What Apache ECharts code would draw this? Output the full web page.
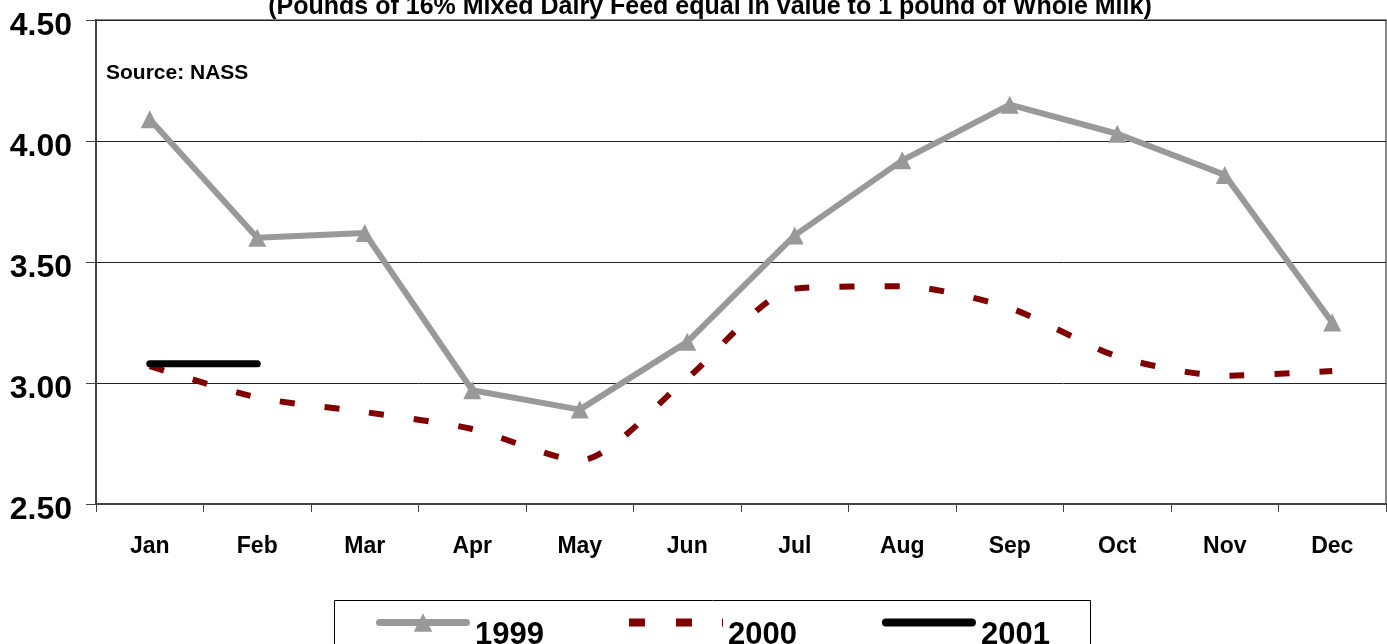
<!DOCTYPE html>
<html>
<head>
<meta charset="utf-8">
<script src="https://cdn.jsdelivr.net/npm/echarts@6/dist/echarts.min.js"></script>
<style>
  html, body { margin: 0; padding: 0; background: #fff; }
  #chart { width: 1387px; height: 644px; }
</style>
</head>
<body>
<div id="chart"></div>
<script>
// months on the x axis
const months = ['Jan', 'Feb', 'Mar', 'Apr', 'May', 'Jun', 'Jul', 'Aug', 'Sep', 'Oct', 'Nov', 'Dec'];

// milk-feed price ratio per year
const ratio1999 = [4.09, 3.60, 3.62, 2.97, 2.89, 3.17, 3.61, 3.92, 4.15, 4.03, 3.86, 3.25];
const ratio2000 = [3.07, 2.94, 2.88, 2.81, 2.68, 3.02, 3.39, 3.40, 3.31, 3.11, 3.03, 3.05];
const ratio2001 = [3.08, 3.08];

const titleText = '(Pounds of 16% Mixed Dairy Feed equal in value to 1 pound of Whole Milk)';
const sourceText = 'Source: NASS';

const chart = echarts.init(document.getElementById('chart'));
const font = 'Liberation Sans';

// legend icons drawn like the line samples of the original
const icon1999 = 'path://M5.5,6.5 L90.5,6.5 A3.5,3.5 0 0 1 90.5,13.5 L5.5,13.5 A3.5,3.5 0 0 1 5.5,6.5 Z M48,1 L57,19 L39,19 Z';
const icon2000 = 'path://M0,0 L16,0 L16,8 L0,8 Z M47,0 L63,0 L63,8 L47,8 Z M93,0 L94,0 L94,8 L93,8 Z';
const icon2001 = 'path://M4,0 L88,0 A4,4 0 0 1 88,8 L4,8 A4,4 0 0 1 4,0 Z';

const option = {
    backgroundColor: '#fff',
    animation: false,
    textStyle: { fontFamily: font },
    title: {
        text: titleText,
        left: 705,
        textAlign: 'center',
        top: -10,
        textStyle: { fontSize: 25, fontWeight: 'bold', color: '#000', fontFamily: font }
    },
    graphic: [
        {
            type: 'text',
            left: 106,
            top: 63,
            style: { text: sourceText, font: 'bold 21px "Liberation Sans"', fill: '#000' }
        },
        {
            // legend frame, runs off the bottom edge like the original
            type: 'rect',
            z: 1,
            shape: { x: 334.5, y: 600.5, width: 756, height: 60 },
            style: { fill: 'none', stroke: '#000', lineWidth: 1 }
        }
    ],
    legend: {
        left: 376,
        top: 594,
        padding: 0,
        itemWidth: 94,
        itemHeight: 20,
        itemGap: 85,
        symbolKeepAspect: true,
        // blank first line pushes the name a little below the icon, as in the original
        formatter: name => '\n' + name,
        textStyle: { fontSize: 31, fontWeight: 'bold', color: '#000', fontFamily: font, lineHeight: 26 },
        data: [
            { name: '1999', icon: icon1999 },
            { name: '2000', icon: icon2000 },
            { name: '2001', icon: icon2001 }
        ]
    },
    grid: {
        left: 96,
        right: 1,
        top: 20,
        bottom: 140,
        show: true,
        borderColor: '#888',
        borderWidth: 2,
        containLabel: false
    },
    xAxis: {
        type: 'category',
        data: months,
        boundaryGap: true,
        axisLine: { lineStyle: { color: '#444', width: 2 } },
        axisTick: { show: true, interval: 0, length: 8, lineStyle: { color: '#444', width: 1 } },
        axisLabel: { fontSize: 23, fontWeight: 'bold', color: '#000', margin: 31, interval: 0, fontFamily: font }
    },
    yAxis: {
        type: 'value',
        min: 2.5,
        max: 4.5,
        interval: 0.5,
        axisLine: { show: true, lineStyle: { color: '#444', width: 2 } },
        axisTick: { show: true, length: 10, lineStyle: { color: '#444' } },
        axisLabel: {
            fontSize: 32, fontWeight: 'bold', color: '#000', margin: 24, fontFamily: font,
            verticalAlign: 'top',
            lineHeight: 12,
            formatter: v => v.toFixed(2)
        },
        splitLine: { lineStyle: { color: '#222', width: 1 } }
    },
    series: [
        {
            name: '1999',
            type: 'line',
            data: ratio1999,
            symbol: 'triangle',
            symbolSize: 18,
            itemStyle: { color: '#999999' },
            lineStyle: { color: '#999999', width: 6 },
            z: 3
        },
        {
            name: '2000',
            type: 'line',
            data: ratio2000,
            symbol: 'none',
            smooth: 0.25,
            itemStyle: { color: '#800000' },
            lineStyle: { color: '#800000', width: 6, type: [15, 30] },
            z: 2
        },
        {
            name: '2001',
            type: 'line',
            data: ratio2001,
            symbol: 'none',
            itemStyle: { color: '#000' },
            lineStyle: { color: '#000', width: 7, cap: 'round' },
            z: 4
        }
    ]
};

chart.setOption(option);
</script>
</body>
</html>
